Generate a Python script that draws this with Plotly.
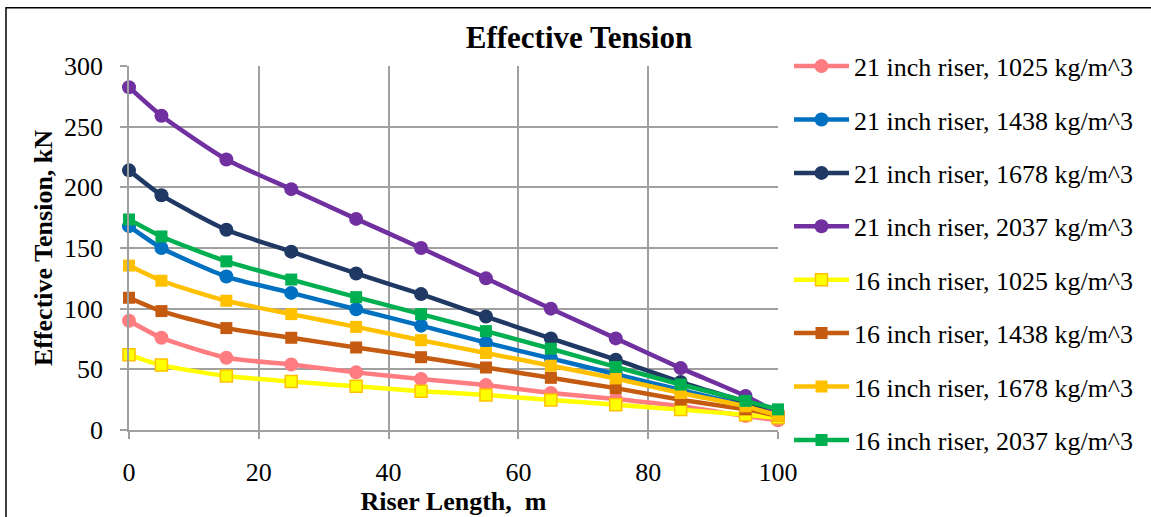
import plotly.graph_objects as go

# Riser length along the riser (m)
length_m = [0, 5, 15, 25, 35, 45, 55, 65, 75, 85, 95, 100]

# Effective tension (kN) for each riser size / mud density
t21_1025 = [90, 76, 59.5, 54, 47.5, 42, 37, 30.5, 25.5, 19.5, 11.5, 8]
t21_1438 = [168, 150, 126.5, 113, 99.5, 86, 72, 59, 46, 33, 20, 12]
t21_1678 = [214, 193.5, 165, 147, 129, 112, 93.5, 75.5, 58, 39.5, 23, 13]
t21_2037 = [282.5, 259, 223, 198.5, 174, 150, 125, 100, 75.5, 51, 28, 14]
t16_1025 = [62, 53.5, 44.5, 40, 36, 32, 28.8, 24.8, 20.8, 16.8, 12.5, 10]
t16_1438 = [109, 98, 84, 76, 68, 60, 51.5, 43, 34.5, 25, 17, 12]
t16_1678 = [135.5, 123, 106.5, 95.5, 85, 74, 63.5, 53, 42.5, 30.5, 19.5, 12]
t16_2037 = [173.5, 159.5, 139, 124, 109.5, 95.5, 81.5, 67, 52, 37.5, 24, 17]

series_names = [
    "21 inch riser, 1025 kg/m^3",
    "21 inch riser, 1438 kg/m^3",
    "21 inch riser, 1678 kg/m^3",
    "21 inch riser, 2037 kg/m^3",
    "16 inch riser, 1025 kg/m^3",
    "16 inch riser, 1438 kg/m^3",
    "16 inch riser, 1678 kg/m^3",
    "16 inch riser, 2037 kg/m^3",
]
series_values = [t21_1025, t21_1438, t21_1678, t21_2037,
                 t16_1025, t16_1438, t16_1678, t16_2037]
line_colors = ["#FF7C80", "#0070C0", "#1F3864", "#7030A0",
               "#FFFF00", "#C55A11", "#FFC000", "#00B050"]
marker_symbols = ["circle"] * 4 + ["square"] * 4
marker_edges = [None, None, None, None, "#FFC000", None, None, None]

FONT = "Liberation Serif, Times New Roman, serif"

fig = go.Figure()
for i, (name, vals) in enumerate(zip(series_names, series_values)):
    sym = marker_symbols[i]
    edge = marker_edges[i]
    fig.add_trace(go.Scatter(
        x=length_m, y=vals, name=name, mode="lines+markers",
        legendgroup=f"g{i}",
        line=dict(color=line_colors[i], width=4.5, shape="spline", smoothing=0.6),
        marker=dict(symbol=sym, size=14 if sym == "circle" else 12,
                    color=line_colors[i],
                    line=dict(color=edge if edge else line_colors[i],
                              width=1.5 if edge else 0)),
        cliponaxis=False,
    ))

L, R, T, B = 129, 373, 66, 76
W, H = 1151, 517
pw, ph = W - L - R, H - T - B

grid = "#A0A0A0"
fig.update_layout(
    width=W, height=H,
    margin=dict(l=L, r=R, t=T, b=B),
    paper_bgcolor="white", plot_bgcolor="white",
    font=dict(family=FONT, size=26, color="black"),
    title=dict(text="<b>Effective Tension</b>", x=579 / W, xanchor="center",
               y=1 - 37 / H, yanchor="middle", yref="container",
               font=dict(family=FONT, size=31, color="black")),
    xaxis=dict(range=[0, 100], dtick=20, showgrid=True, gridcolor=grid, gridwidth=1.5,
               zeroline=False, showline=True, linecolor=grid, linewidth=1.5,
               ticks="outside", ticklen=7, tickcolor=grid, tickwidth=1.5,
               ticklabelstandoff=11,
               title=dict(text="<b>Riser Length,\u00a0 m</b>", standoff=0,
                          font=dict(family=FONT, size=26))),
    yaxis=dict(range=[0, 300], dtick=50, showgrid=True, gridcolor=grid, gridwidth=1.5,
               zeroline=False, showline=True, linecolor=grid, linewidth=1.5,
               ticks="outside", ticklen=7, tickcolor=grid, tickwidth=1.5,
               ticklabelstandoff=12,
               title=dict(text="<b>Effective Tension, kN</b>", standoff=4,
                          font=dict(family=FONT, size=26))),
    legend=dict(x=(789 - L) / pw, xanchor="left", y=1 + (T - 42) / ph, yanchor="top",
                font=dict(family=FONT, size=26), itemwidth=55,
                tracegroupgap=16.6, maxheight=500,
                bgcolor="rgba(0,0,0,0)", borderwidth=0),
    shapes=[dict(type="rect", xref="paper", yref="paper",
                 x0=(6 - L) / pw, x1=(W + 20 - L) / pw,
                 y0=(H - B - H - 20) / ph, y1=(H - B - 6) / ph,
                 line=dict(color="black", width=1.5), fillcolor="rgba(0,0,0,0)",
                 layer="below")],
)

fig.write_html("out.html")
